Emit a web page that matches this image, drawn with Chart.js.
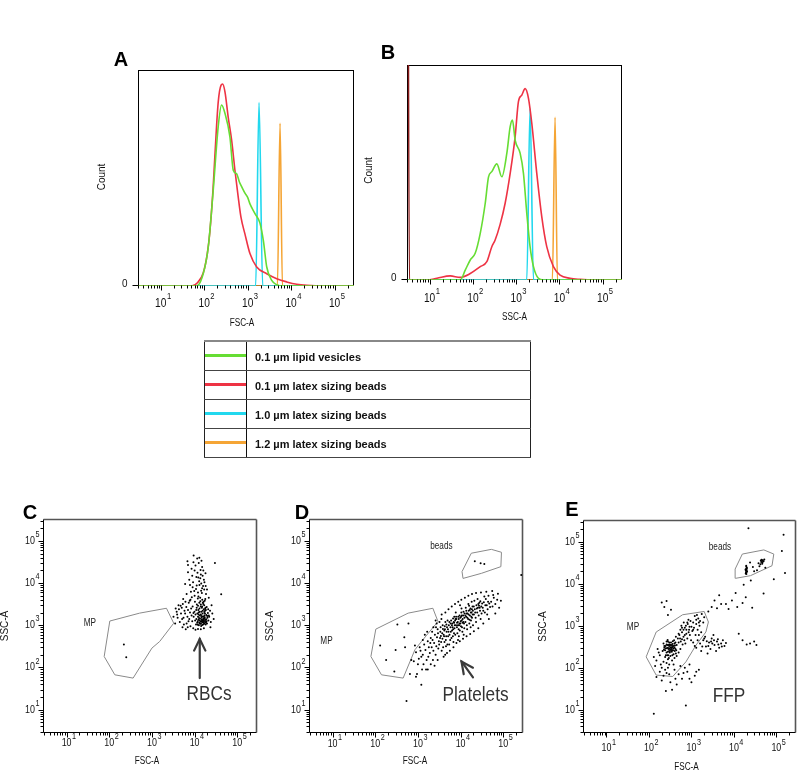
<!DOCTYPE html>
<html>
<head>
<meta charset="utf-8">
<script src="https://cdn.jsdelivr.net/npm/chart.js@4.4.1/dist/chart.umd.min.js"></script>
<style>
  html, body { margin:0; padding:0; background:#fff; }
  body { width:800px; height:776px; position:relative; overflow:hidden; font-family:"Liberation Sans", Arial, sans-serif; }
  canvas.layer { position:absolute; left:0; top:0; }
  #legend { position:absolute; left:204px; top:340px; width:327px; border-collapse:collapse; }
  #legend tr { height:29px; }
  #legend td { padding:0; border-bottom:1px solid #444; }
  #legend tr:first-child td { border-top:2px solid #888; }
  #legend td.sw { width:41px; border-left:1px solid #222; border-right:1px solid #111; position:relative; }
  #legend td.sw div { position:absolute; left:0; right:0; top:50%; height:3px; margin-top:-2px; }
  #legend td.lbl { padding-left:8px; padding-top:3px; font-weight:bold; font-size:11px; color:#111; border-right:1px solid #222; white-space:nowrap; }
</style>
</head>
<body>
<canvas id="chA" class="layer" width="800" height="776"></canvas>
<canvas id="chB" class="layer" width="800" height="776"></canvas>
<canvas id="chC" class="layer" width="800" height="776"></canvas>
<canvas id="chD" class="layer" width="800" height="776"></canvas>
<canvas id="chE" class="layer" width="800" height="776"></canvas>
<table id="legend"></table>
<script>
// ---------------- DATA ----------------
const seriesLabels = ['0.1 µm lipid vesicles', '0.1 µm latex sizing beads', '1.0 µm latex sizing beads', '1.2 µm latex sizing beads'];
const decadeLabels = [1, 2, 3, 4, 5];

// Panel A: FSC-A histograms (x = FSC-A, y = relative count)
const aLipidFsc   = [3, 67, 95, 124, 161, 210, 251, 300, 391, 467, 557, 650, 728, 868, 1000, 1130, 1476, 1928, 2300, 2750, 3580, 4670, 6650, 280000];
const aLipidCount = [0, 0, 5.7, 18, 44, 73.7, 83.8, 80, 69, 53.6, 52, 48, 46, 43, 41, 38, 33.5, 29, 21, 8.8, 2.6, 0.6, 0, 0];
const aLatex01Fsc   = [3, 51, 70, 95, 118, 135, 160, 176, 210, 245, 265, 300, 358, 428, 510, 600, 700, 868, 1130, 1615, 2750, 4670, 7940, 13500, 23000, 55700, 280000];
const aLatex01Count = [0, 0, 1.5, 6, 15, 25, 45, 60, 85, 93, 93.5, 90, 78, 67.5, 53.6, 42, 32, 24, 15, 8.8, 5.7, 3.4, 1.9, 0.8, 0.3, 0, 0];
const aLatex10Fsc   = [3, 1530, 1828, 2218, 280000];
const aLatex10Count = [0, 0, 84.9, 0, 0];
const aLatex12Fsc   = [3, 4840, 5570, 6310, 280000];
const aLatex12Count = [0, 0, 75.3, 0, 0];

// Panel B: SSC-A histograms
const bLipidSsc   = [3, 51, 67, 87, 113, 148, 193, 230, 274, 358, 467, 610, 728, 822, 949, 1236, 1476, 1763, 2100, 2515, 3270, 4280, 280000];
const bLipidCount = [0, 0, 4.7, 9.3, 12.4, 21.7, 35.7, 48, 50.4, 54, 48, 59, 71.3, 74.4, 65, 59, 49.6, 31, 15.5, 6.2, 0.8, 0, 0];
const bLatex01Ssc   = [3, 3.4, 8.7, 14.8, 30, 51, 87, 148, 210, 274, 327, 428, 557, 728, 949, 1130, 1352, 1615, 1928, 2300, 3000, 3910, 5100, 7280, 10360, 17600, 30000, 61000, 280000];
const bLatex01Count = [400, 0, 0, 0.8, 1.9, 1.2, 3, 6.2, 8.5, 15.5, 18.6, 26, 35.7, 49.6, 66.7, 83, 86, 89, 84.5, 72.9, 49.6, 29.5, 15.5, 6.2, 2.3, 0.8, 0.3, 0, 0];
const bLatex10Ssc   = [3, 1763, 2100, 2515, 280000];
const bLatex10Count = [0, 0, 79.8, 0, 0];
const bLatex12Ssc   = [3, 6890, 7940, 8990, 280000];
const bLatex12Count = [0, 0, 75.7, 0, 0];

// Panel C: RBC sample, events [FSC-A, SSC-A]
const cEvents = [
 [12600,1000],[14100,1100],[15800,1050],[17800,1200],[13000,1300],[16000,1350],[11500,1150],[19000,1250],[14500,1500],[12000,1600],
 [17000,1700],[15000,1020],[13500,1080],[18500,1150],[16500,1450],[14000,1800],[12500,2000],[15500,2200],[17500,1900],[11000,1400],
 [13000,2500],[15000,2800],[16500,2400],[14000,3100],[12000,2900],[18000,2600],[10500,1800],[20000,1500],[21000,1300],[19500,1100],
 [13800,1250],[15200,1180],[16800,1080],[12800,1150],[14700,1350],[16200,1600],[11800,1250],[13200,1700],[17200,1420],[18800,1750],
 [10800,1050],[20500,1950],[15600,3400],[13600,3700],[16800,3000],[14400,2100],[12200,2300],[17600,2200],[19200,2700],[11200,2600],
 [14900,1270],[16100,1190],[13400,1420],[15300,1620],[17900,1330],[12300,1350],[14200,960],[16700,1260],[18200,1050],[15700,1300],
 [13300,1120],[14600,1230],[15900,1400],[17300,1550],[12700,1480],[16400,1150],[18700,1380],[11900,1030],[14300,1650],[15400,1900],
 [13100,2100],[16900,2050],[12400,1800],[17700,2450],[14800,2600],[11600,1900],[19800,1650],[10300,1300],[13900,2800],[16000,3200],
 [18400,2300],[12900,3400],[15100,4000],[11300,3100],[17300,3800],[20800,2400],[9500,1600],[9900,2100],[10900,2300],[21500,1700],
 [8000,4000],[10000,5000],[12000,6000],[15000,7500],[9000,8000],[13000,9000],[17000,10500],[7500,12000],[11000,14000],[14000,16000],
 [16000,20000],[8500,22000],[10500,26000],[12500,30000],[9500,45000],[7000,18000],[6000,9500],[13500,4500],[18500,5500],[16500,12000],
 [11500,38000],[14500,34000],[7000,27000],[9800,6500],[12800,11000],[15800,8500],[19500,7000],[6500,5500],[11200,8800],[8800,15000],
 [14800,5800],[17800,4200],[10200,3600],[12300,4800],[16300,3600],[13600,13000],[18000,17000],[15000,24000],[10000,20000],[6800,33000],
 [9200,10500],[12200,13500],[14300,9800],[16800,7000],[10800,7200],[8200,6200],[13800,20500],[11700,17500],[9400,31000],[12900,40000],
 [15400,15000],[7800,9000],[18200,8500],[11900,4300],[14200,6600],
 [3200,1600],[3800,2100],[4500,1200],[5000,2600],[5500,1500],[6000,1900],[6500,1100],[7000,2300],[7500,1400],[8000,950],
 [8500,1700],[9000,2800],[4200,3000],[5200,900],[6200,800],[7300,3400],[3500,1100],[4800,1900],[5800,2200],[6800,1600],
 [7800,2000],[8800,1250],[9300,850],[4000,1500],[5300,3200],
 [4300,2400],[5100,1400],[6400,2700],[7200,1250],[8300,2500],[5600,1050],[6900,900],[3900,1800],[7700,3800],[9400,1950],
 [4700,2900],[6100,3600],[8600,4600],[5400,4200],[3600,2500],
 [22000,1600],[24000,1200],[23000,2200],[26000,1900],[25000,3000],[21500,4500],[23500,900],[42000,5400],[30000,30000],[28000,1400],
 [12000,820],[14000,800],[16500,850],[10500,780],
 [220,350],[250,175]
];
const cMpGate = [[103,1260],[515,1940],[2190,2530],[3240,1120],[1520,413],[1000,288],[362,56],[135,67],[76,182],[103,1260]];

// Panel D: platelet sample
const dEvents = [
 [800,140],[900,230],[1000,120],[1100,300],[1200,180],[1250,90],[950,70],[1150,250],[850,330],[1050,160],
 [1300,200],[1400,350],[1500,260],[1600,150],[1700,420],[1800,300],[1900,220],[2000,500],[1350,120],[1450,600],[1750,180],[1950,380],[1550,90],[1650,700],
 [2100,300],[2200,450],[2300,250],[2400,380],[2500,600],[2600,200],[2700,320],[2800,520],[2900,800],[3000,280],[3100,420],[2250,150],[2650,900],[2950,650],[2450,110],[3150,350],[2150,700],[2750,1100],
 [3300,500],[3500,400],[3700,650],[3900,300],[4100,550],[4300,800],[4500,450],[4700,700],[4900,350],[3400,900],[3600,250],[3800,1000],[4000,600],[4200,400],[4400,1200],[4600,550],[4800,900],[3350,700],[3750,480],[4150,750],[4550,320],[4950,1300],[3550,1400],[4350,200],
 [5200,700],[5500,600],[5800,900],[6100,500],[6400,1100],[6700,800],[7000,650],[7300,1000],[7600,1400],[5300,1000],[5700,450],[6000,1300],[6300,750],[6600,550],[6900,1200],[7200,850],[7500,600],[7800,1000],[5100,550],[5900,700],[6500,900],[7100,1600],[5400,350],[6800,400],[7700,2000],
 [8200,900],[8600,1200],[9000,800],[9400,1100],[9800,1500],[10200,950],[10600,1300],[11000,700],[11500,1700],[12000,1100],[8400,650],[8800,1600],[9200,1000],[9600,750],[10000,1250],[10400,2000],[10800,900],[11200,1400],[11800,600],[12400,1900],[8000,1400],[9100,550],[10500,2500],[11600,1200],[12200,850],[8700,450],[9700,3000],
 [13000,1200],[13500,1600],[14000,1000],[14500,1900],[15000,1400],[15500,2200],[16000,1100],[16500,1700],[17000,2500],[17500,1300],[18000,2000],[18500,1500],[19000,2800],[19500,1000],[13200,2600],[14200,800],[15200,3200],[16200,1350],[17200,900],[18200,3600],[19200,1800],[13800,1900],[15800,2900],[17800,1600],
 [20500,1800],[21500,2400],[22500,1500],[23500,3000],[24500,2000],[25500,2600],[26500,1700],[27500,3400],[28500,2200],[29500,1400],[30500,2800],[21000,3800],[23000,1200],[25000,4200],[27000,2900],[29000,3700],[31000,1900],
 [33000,2600],[35000,3500],[37000,2000],[39000,4200],[41000,3000],[43000,2400],[45000,5000],[47000,3300],[49000,2700],[36000,4800],[42000,1800],[34000,2200],
 [52000,3600],[56000,2800],[60000,4500],[65000,3200],[72000,4000],[80000,2600],[88000,3800],[58000,5200],
 [1300,450],[1700,90],[2000,120],[2300,900],[2600,1300],[2900,150],[3200,1200],[3600,1800],[4000,180],[4400,2000],
 [4800,220],[5200,2400],[5600,250],[6200,2800],[6800,300],[7400,3200],[8000,380],[8800,3600],[9600,420],[10400,4000],
 [11400,480],[12600,4500],[13800,550],[15200,5000],[16800,620],[18500,5500],[20500,720],[23000,5800],[26000,850],[30000,6000],
 [34000,1100],[40000,6200],[46000,1400],[55000,6500],[65000,1900],[75000,5600],
 [3450,560],[3850,820],[4250,950],[4650,1050],[5050,800],[5450,1200],[5850,1100],[6250,1000],[6650,1450],[7050,1150],
 [7450,1300],[7850,1600],[8250,1150],[8650,1000],[9050,1400],[9450,1700],[9850,1100],[10300,1600],[10700,1700],[11100,1150],
 [11700,2100],[12300,1500],[12900,1700],[13600,2200],[14400,1500],[15400,1800],[16400,2300],[17400,2000],[18400,2400],[19400,2200],
 [20400,2800],[22000,2000],[24000,2500],[26000,3200],[28000,2600],[32000,3300],[38000,3000],[44000,3600],
 [130,330],[180,150],[330,1050],[300,260],[600,1100],[480,520],[500,300],[700,150],[280,80],[650,70],[1200,39],[540,16],[900,60],
 [21500,33000],[29500,29500],[36000,28400],[264000,15600]
];
const dMpGate    = [[103,810],[590,1940],[2240,2530],[2950,1230],[1210,413],[850,263],[450,56],[140,67],[79,182],[103,810]];
const dBeadsGate = [[17800,51000],[52600,63000],[90700,53700],[87900,24500],[30700,17000],[11400,12900],[10800,18700],[17800,51000]];

// Panel E: fresh frozen plasma sample
const eEvents = [
 [210,250],[230,300],[250,200],[270,350],[290,280],[310,230],[330,400],[350,310],[370,260],[390,450],
 [410,340],[430,220],[220,380],[240,180],[260,420],[280,240],[300,330],[320,190],[340,280],[360,370],
 [380,210],[400,300],[420,400],[440,260],[225,270],[245,330],[265,290],[285,200],[305,360],[325,310],
 [345,240],[365,430],[385,330],[405,250],[275,460],[295,170],[315,270],[335,350],[355,200],[375,290],
 [240,260],[260,360],[280,300],[300,250],[320,350],[340,300],[260,230],[300,400],[350,260],[230,330],
 [270,200],[310,290],[290,350],[250,290],[330,250],[360,330],[280,420],[400,380],[420,280],[450,350],
 [480,500],[520,600],[560,420],[600,700],[650,550],[700,900],[760,650],[820,1100],[880,800],[950,1300],
 [1000,950],[1100,1200],[1200,1700],[1300,1100],[1450,1500],[1600,1300],[1750,1900],[1900,1200],[2000,1600],[550,800],
 [620,360],[680,450],[740,1000],[800,500],[860,700],[920,600],[980,450],[1050,750],[1150,900],[1250,600],
 [1400,800],[1550,1000],[1700,700],[500,650],[580,1000],[660,1200],[720,380],[850,1400],[1350,1800],[430,550],
 [500,400],[540,500],[600,480],[650,800],[700,600],[760,800],[900,950],[1100,800],[1300,1400],[1500,1200],[800,1200],[600,900],
 [130,180],[150,150],[170,230],[190,120],[200,100],[220,140],[240,90],[160,280],[180,200],[260,130],
 [140,110],[280,160],[300,120],[350,150],[400,170],[450,190],[500,230],[550,280],
 [1300,300],[1600,380],[1900,450],[2200,320],[2600,400],[3000,500],[3500,350],[4000,420],[4500,300],[5000,380],
 [6000,330],[1500,600],[2100,550],[2800,280],[3300,600],[3800,250],[4200,480],[5500,450],[6500,390],[1100,400],
 [2400,220],[1700,250],[3100,380],
 [1400,450],[1800,320],[2000,500],[2500,330],[2900,420],[3400,450],[4300,360],[5200,320],[1200,330],[2300,430],
 [150,60],[200,50],[260,75],[320,45],[400,90],[500,70],[600,55],[700,100],[800,80],[1000,45],
 [1200,65],[1500,90],[350,30],[450,40],[250,28],[550,110],[900,120],[180,80],[130,8],[740,12.6],
 [220,65],[300,70],[420,55],[650,75],[900,55],[1300,80],[280,100],[380,120],
 [200,3600],[230,2800],[280,1800],[330,2400],[260,3900],
 [2500,2200],[3000,2800],[3500,4000],[4500,5300],[6500,3300],[9000,4000],[11000,6000],[4000,2600],[5000,3300],[7500,2500],
 [12000,2800],[16000,3500],[19000,4800],[27000,2700],[13000,650],[16000,450],[20000,360],[24000,380],[30000,420],[34000,350],[50000,5900],
 [19000,17500],[19500,18500],[20000,19500],[19200,20500],[19800,21500],[19400,22500],[20200,24000],[19600,25500],[19300,18000],[19900,19000],
 [19100,21000],[20100,23000],[19700,17000],[19500,27000],[20400,20000],[18800,22000],
 [44000,33000],[46000,35000],[48000,36500],[45000,37500],[47000,32000],[50000,34500],[43000,36000],[46500,30000],[42000,29000],[52000,38000],
 [40000,26000],[38000,31000],[55000,24000],[35000,21000],[30000,20000],[28000,25000],[24000,32000],
 [22000,209000],[148000,148000],[160000,18000],[87000,12900],[17000,9500],[25000,12000],[135000,60000]
];
const eMpGate    = [[148,710],[620,1830],[2000,2190],[2510,1230],[2190,710],[1280,345],[740,138],[363,62],[148,67],[86,182],[148,710]];
const eBeadsGate = [[15800,51000],[50700,64000],[87000,51000],[79000,26900],[24600,15600],[11000,13500],[10700,22400],[15800,51000]];

// ---------------- STYLE ----------------
const palette = { lipid:'#66dd33', latex01:'#ee3344', latex10:'#22d8ee', latex12:'#f5a535', spike:'#8b1a1a', gate:'#8a8a8a', dot:'#000' };
const legendColors = [palette.lipid, palette.latex01, palette.latex10, palette.latex12];
const FONT = '"Liberation Sans", Arial, Helvetica, sans-serif';
const MULTS = [1,2,3,4,5,6,7,8,9];

// legend table
(function(){
  const t = document.getElementById('legend');
  seriesLabels.forEach((lab, i) => {
    const tr = document.createElement('tr');
    const sw = document.createElement('td'); sw.className = 'sw';
    const bar = document.createElement('div'); bar.style.background = legendColors[i]; sw.appendChild(bar);
    const td = document.createElement('td'); td.className = 'lbl'; td.textContent = lab;
    tr.appendChild(sw); tr.appendChild(td); t.appendChild(tr);
  });
})();

function txt(ctx, s, x, y, size, opt) {
  opt = opt || {};
  ctx.save();
  ctx.font = (opt.bold ? 'bold ' : '') + size + 'px ' + FONT;
  ctx.fillStyle = opt.color || '#111';
  ctx.textAlign = opt.align || 'center';
  ctx.textBaseline = 'middle';
  ctx.translate(x, y);
  if (opt.rot) ctx.rotate(opt.rot);
  ctx.scale(opt.sx || 1, 1);
  ctx.fillText(s, 0, 0);
  ctx.restore();
}
function tw(ctx, s, size, sx) { ctx.save(); ctx.font = size + 'px ' + FONT; const w = ctx.measureText(s).width * (sx || 1); ctx.restore(); return w; }
function powLabel(ctx, e, x, y, o, align) {
  const wb = tw(ctx, '10', o.base, o.sx), we = tw(ctx, String(e), o.exp, o.sx);
  const left = align === 'right' ? x - wb - we - 0.5 : x - wb / 2;
  txt(ctx, '10', left, y, o.base, {align:'left', sx:o.sx});
  txt(ctx, String(e), left + wb + 0.5, y - o.base * 0.6, o.exp, {align:'left', sx:o.sx});
}
function seg(ctx, x1, y1, x2, y2) { ctx.beginPath(); ctx.moveTo(x1, y1); ctx.lineTo(x2, y2); ctx.stroke(); }

const flowAxes = {
  id: 'flowAxes',
  beforeDatasetsDraw(chart, args, o) {
    const ctx = chart.ctx, ca = chart.chartArea;
    const L = Math.round(ca.left) + 0.5, R = Math.round(ca.right) - 0.5, T = Math.round(ca.top) + 0.5, B = Math.round(ca.bottom) - 0.5;
    ctx.save();
    if (o.kind === 'hist') {
      ctx.strokeStyle = '#000'; ctx.lineWidth = 1;
      ctx.strokeRect(L, T, R - L, B - T);
    } else {
      ctx.strokeStyle = '#555'; ctx.lineWidth = 1.6;
      seg(ctx, L, T, R, T); seg(ctx, R, T, R, B);
      ctx.strokeStyle = '#000'; ctx.lineWidth = 1;
      seg(ctx, L, T, L, B); seg(ctx, L, B, R, B);
    }
    ctx.restore();
  },
  afterDraw(chart, args, o) {
    const ctx = chart.ctx, ca = chart.chartArea, xs = chart.scales.x, ys = chart.scales.y;
    const L = Math.round(ca.left) + 0.5, B = Math.round(ca.bottom) - 0.5;
    ctx.save();
    ctx.strokeStyle = '#000'; ctx.lineWidth = 1;
    for (let e = 0; e <= 5; e++) for (const m of MULTS) {
      const v = m * Math.pow(10, e);
      if (v < xs.min || v > xs.max) continue;
      const px = Math.round(xs.getPixelForValue(v)) + 0.5;
      seg(ctx, px, B, px, B + (m === 1 ? 5 : 3));
    }
    decadeLabels.forEach(e => powLabel(ctx, e, xs.getPixelForValue(Math.pow(10, e)), B + o.xlabDy, o.tick, 'center'));
    if (o.kind === 'hist') {
      seg(ctx, L - 6, B, L, B);
      txt(ctx, '0', L - 11, B - 2, 11, {align:'right', sx:0.9});
    } else {
      for (let e = 0; e <= 5; e++) for (const m of MULTS) {
        const v = m * Math.pow(10, e);
        if (v < ys.min || v > ys.max) continue;
        const py = Math.round(ys.getPixelForValue(v)) + 0.5;
        seg(ctx, L - (m === 1 ? 5 : 3), py, L, py);
      }
      decadeLabels.forEach(e => powLabel(ctx, e, L - 4, ys.getPixelForValue(Math.pow(10, e)), o.tick, 'right'));
    }
    const cx = (ca.left + ca.right) / 2, cy = (ca.top + ca.bottom) / 2;
    txt(ctx, o.xTitle, cx + (o.xTitleDx || 0), B + o.xTitleDy, 10, {sx:0.82});
    txt(ctx, o.yTitle, L + o.yTitleDx, cy + (o.yTitleDy || 0), 10, {rot:-Math.PI / 2});
    txt(ctx, o.letter.text, o.letter.x, o.letter.y, 20, {bold:true, color:'#000'});
    (o.notes || []).forEach(n => txt(ctx, n.text, xs.getPixelForValue(n.at[0]), ys.getPixelForValue(n.at[1]), n.size, {sx:n.sx || 0.82, color:n.color || '#222'}));
    (o.arrows || []).forEach(a => {
      const x1 = xs.getPixelForValue(a.from[0]), y1 = ys.getPixelForValue(a.from[1]);
      const x2 = xs.getPixelForValue(a.to[0]), y2 = ys.getPixelForValue(a.to[1]);
      ctx.strokeStyle = '#3a3a3a'; ctx.lineWidth = 2.2; ctx.lineCap = 'round';
      seg(ctx, x1, y1, x2, y2);
      const ang = Math.atan2(y2 - y1, x2 - x1), hl = 13, hw = 0.45;
      ctx.beginPath();
      ctx.moveTo(x2 - hl * Math.cos(ang - hw), y2 - hl * Math.sin(ang - hw));
      ctx.lineTo(x2, y2);
      ctx.lineTo(x2 - hl * Math.cos(ang + hw), y2 - hl * Math.sin(ang + hw));
      ctx.stroke();
    });
    ctx.restore();
  }
};

function pad(box) { return {left:box.l, top:box.t, right:800 - box.r, bottom:776 - box.b}; }
const baseOpts = { responsive:false, animation:false, events:[] };

function histChart(id, box, series, axisOpts) {
  return new Chart(document.getElementById(id), {
    type: 'line',
    data: { datasets: series.map(s => ({
      label: s.label,
      data: s.x.map((v, i) => ({x:v, y:s.y[i]})),
      borderColor: s.color, borderWidth: 1.6, pointRadius: 0, fill: false,
      cubicInterpolationMode: 'monotone',
      segment: { borderColor: c => (s.spike && c.p0DataIndex === 0) ? palette.spike : undefined }
    })) },
    options: Object.assign({}, baseOpts, {
      layout: { padding: pad(box) },
      scales: {
        x: { type:'logarithmic', min:3, max:280000, bounds:'data', display:false },
        y: { type:'linear', min:0, max:100, bounds:'data', display:false }
      },
      plugins: { legend:{display:false}, tooltip:{enabled:false}, flowAxes: axisOpts }
    }),
    plugins: [flowAxes]
  });
}

function scatterChart(id, box, events, gates, axisOpts) {
  const ds = [{
    type:'scatter', label:'events', data: events.map(p => ({x:p[0], y:p[1]})),
    pointRadius: 1, pointBackgroundColor: palette.dot, pointBorderWidth: 0, showLine: false
  }];
  gates.forEach(g => ds.push({
    type:'scatter', label:'gate', data: g.map(p => ({x:p[0], y:p[1]})), showLine:true,
    borderColor: palette.gate, borderWidth: 1, pointRadius: 0, tension: 0, fill:false
  }));
  return new Chart(document.getElementById(id), {
    type: 'scatter',
    data: { datasets: ds },
    options: Object.assign({}, baseOpts, {
      layout: { padding: pad(box) },
      scales: {
        x: { type:'logarithmic', min:2.8, max:290000, bounds:'data', display:false },
        y: { type:'logarithmic', min:2.8, max:330000, bounds:'data', display:false }
      },
      plugins: { legend:{display:false}, tooltip:{enabled:false}, flowAxes: axisOpts }
    }),
    plugins: [flowAxes]
  });
}

const histTick = {base:12, exp:9, sx:0.85};
const scatTick = {base:10.5, exp:8.5, sx:0.85};

histChart('chA', {l:138, t:70, r:354, b:286}, [
  {label:seriesLabels[0], x:aLipidFsc,   y:aLipidCount,   color:palette.lipid},
  {label:seriesLabels[1], x:aLatex01Fsc, y:aLatex01Count, color:palette.latex01},
  {label:seriesLabels[2], x:aLatex10Fsc, y:aLatex10Count, color:palette.latex10},
  {label:seriesLabels[3], x:aLatex12Fsc, y:aLatex12Count, color:palette.latex12}
], {kind:'hist', tick:histTick, xlabDy:18.5, xTitle:'FSC-A', xTitleDy:38, xTitleDx:-4, yTitle:'Count', yTitleDx:-36, yTitleDy:-1, letter:{text:'A', x:121, y:60}});

histChart('chB', {l:407, t:65, r:622, b:280}, [
  {label:seriesLabels[0], x:bLipidSsc,   y:bLipidCount,   color:palette.lipid},
  {label:seriesLabels[1], x:bLatex01Ssc, y:bLatex01Count, color:palette.latex01, spike:true},
  {label:seriesLabels[2], x:bLatex10Ssc, y:bLatex10Count, color:palette.latex10},
  {label:seriesLabels[3], x:bLatex12Ssc, y:bLatex12Count, color:palette.latex12}
], {kind:'hist', tick:histTick, xlabDy:19, xTitle:'SSC-A', xTitleDy:38, yTitle:'Count', yTitleDx:-38.5, yTitleDy:-2, letter:{text:'B', x:388, y:53}});

scatterChart('chC', {l:43, t:519, r:257, b:733}, cEvents, [cMpGate], {
  kind:'scatter', tick:scatTick, xlabDy:10.5, xTitle:'FSC-A', xTitleDy:29, xTitleDx:-3, yTitle:'SSC-A', yTitleDx:-38, letter:{text:'C', x:30, y:513},
  notes:[{text:'MP', at:[35,1120], size:10}, {text:'RBCs', at:[21800,22.7], size:21, color:'#333'}],
  arrows:[{from:[13200,56], to:[13200,475]}]
});

scatterChart('chD', {l:309, t:519, r:523, b:733}, dEvents, [dMpGate, dBeadsGate], {
  kind:'scatter', tick:scatTick, xlabDy:11.5, xTitle:'FSC-A', xTitleDy:29, xTitleDx:-1, yTitle:'SSC-A', yTitleDx:-39, letter:{text:'D', x:302, y:513},
  notes:[{text:'MP', at:[7.2,415], size:10}, {text:'beads', at:[3550,76000], size:10}, {text:'Platelets', at:[22400,21.5], size:21, color:'#333'}],
  arrows:[{from:[19500,58], to:[10500,139]}]
});

scatterChart('chE', {l:583, t:520, r:797, b:733}, eEvents, [eMpGate, eBeadsGate], {
  kind:'scatter', tick:scatTick, xlabDy:16, xTitle:'FSC-A', xTitleDy:35, xTitleDx:-3, yTitle:'SSC-A', yTitleDx:-40, letter:{text:'E', x:572, y:510},
  notes:[{text:'MP', at:[42,930], size:10}, {text:'beads', at:[4700,76000], size:10}, {text:'FFP', at:[7700,21.5], size:21, color:'#333'}]
});
</script>
</body>
</html>
